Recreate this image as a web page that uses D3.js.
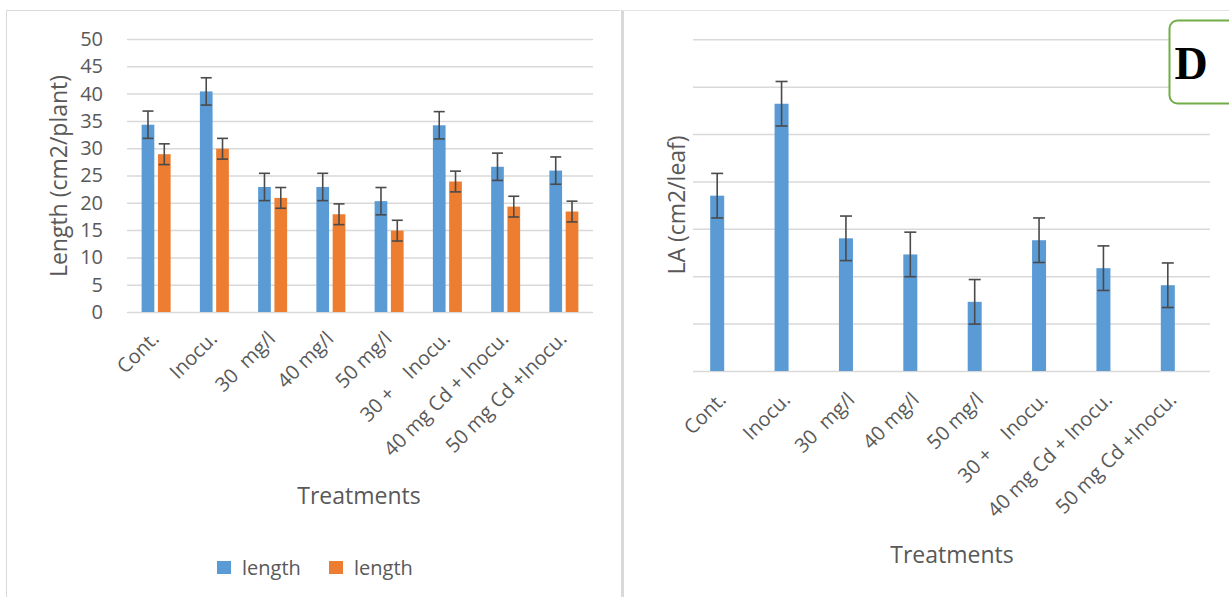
<!DOCTYPE html>
<html>
<head>
<meta charset="utf-8">
<script src="https://cdn.jsdelivr.net/npm/d3@7"></script>
<style>
  body { margin: 0; background: #fff; }
  svg text { font-family: "Open Sans", "DejaVu Sans", sans-serif; fill: #595959; white-space: pre; }
</style>
</head>
<body>
<div id="viz"></div>
<script>
'use strict';

// data
const treatments = ['Cont.', 'Inocu.', '30  mg/l', '40 mg/l', '50 mg/l', '30 +    Inocu.', '40 mg Cd + Inocu.', '50 mg Cd +Inocu.'];
const seriesNames = ['length', 'length'];
const lengthBlue = [34.3, 40.4, 22.9, 22.9, 20.3, 34.2, 26.6, 25.9];
const lengthBlueErr = [2.5, 2.5, 2.5, 2.5, 2.5, 2.5, 2.5, 2.5];
const lengthOrange = [28.9, 29.9, 20.9, 17.9, 14.9, 23.9, 19.3, 18.4];
const lengthOrangeErr = [1.9, 1.9, 1.9, 1.9, 1.9, 1.9, 1.9, 1.9];
const leftTicks = [0, 5, 10, 15, 20, 25, 30, 35, 40, 45, 50];
const laValues = [3.70, 5.64, 2.80, 2.46, 1.46, 2.76, 2.17, 1.81];
const laErr = [0.47, 0.47, 0.47, 0.47, 0.47, 0.47, 0.47, 0.47];
const rightTicks = [0, 1, 2, 3, 4, 5, 6, 7];

const colors = ['#5B9BD5', '#ED7D31'];
const W = 1229, H = 597;

const svg = d3.select('#viz').append('svg')
    .attr('width', W).attr('height', H);

// panel frames
svg.append('path').attr('d', 'M6.5,' + H + 'V10.5H620')
    .attr('fill', 'none').attr('stroke', '#d9d9d9').attr('stroke-width', 1);
svg.append('line').attr('x1', 622.5).attr('x2', 622.5).attr('y1', 10).attr('y2', H)
    .attr('stroke', '#d9d9d9').attr('stroke-width', 3);
svg.append('line').attr('x1', 622).attr('x2', W).attr('y1', 10.5).attr('y2', 10.5)
    .attr('stroke', '#e3e3e3').attr('stroke-width', 1);

function drawErrors(g, xs, ys, vals, errs, cap) {
    vals.forEach(function(v, i) {
        const x = xs[i];
        const e = g.append('g').attr('stroke', '#4a4a4a').attr('stroke-width', 1.6);
        e.append('line').attr('x1', x).attr('x2', x).attr('y1', ys(v - errs[i])).attr('y2', ys(v + errs[i]));
        e.append('line').attr('x1', x - cap / 2).attr('x2', x + cap / 2).attr('y1', ys(v + errs[i])).attr('y2', ys(v + errs[i]));
        e.append('line').attr('x1', x - cap / 2).attr('x2', x + cap / 2).attr('y1', ys(v - errs[i])).attr('y2', ys(v - errs[i]));
    });
}

function drawXLabels(g, xScale, y0, dx, dy) {
    g.selectAll('.xlab').data(treatments).enter().append('text')
        .attr('class', 'xlab')
        .attr('text-anchor', 'end')
        .style('font-size', '20px')
        .attr('transform', d => 'translate(' + (xScale(d) + xScale.bandwidth() / 2 + dx) + ',' + (y0 + dy) + ') rotate(-45)')
        .text(d => d);
}

// ---------- left chart ----------
const left = svg.append('g');
const xL = d3.scaleBand().domain(treatments).range([127, 593]);
const xSub = d3.scaleBand().domain([0, 1]).range([-14.5, 14.5]).paddingInner(0.22);
const yL = d3.scaleLinear().domain([0, 50]).range([312, 39]);

left.append('g')
    .attr('transform', 'translate(127,0)')
    .call(d3.axisLeft(yL).tickValues(leftTicks).tickSize(-466).tickPadding(24))
    .call(g => g.select('.domain').remove())
    .call(g => g.selectAll('.tick line').attr('stroke', '#d9d9d9').attr('stroke-width', 1.5))
    .call(g => g.selectAll('.tick text').style('font-size', '20px').attr('fill', '#595959'));

[lengthBlue, lengthOrange].forEach(function(vals, s) {
    left.selectAll('.bar' + s).data(vals).enter().append('rect')
        .attr('class', 'bar' + s)
        .attr('x', (d, i) => xL(treatments[i]) + xL.bandwidth() / 2 + xSub(s))
        .attr('width', xSub.bandwidth())
        .attr('y', d => yL(d))
        .attr('height', d => yL(0) - yL(d))
        .attr('fill', colors[s]);
});
drawErrors(left, lengthBlue.map((d, i) => xL(treatments[i]) + xL.bandwidth() / 2 + xSub(0) + xSub.bandwidth() / 2), yL, lengthBlue, lengthBlueErr, 11);
drawErrors(left, lengthOrange.map((d, i) => xL(treatments[i]) + xL.bandwidth() / 2 + xSub(1) + xSub.bandwidth() / 2), yL, lengthOrange, lengthOrangeErr, 11);

drawXLabels(left, xL, 312, 4, 28);

left.append('text').attr('transform', 'translate(67,176) rotate(-90)')
    .attr('text-anchor', 'middle').style('font-size', '23px').text('Length (cm2/plant)');
left.append('text').attr('x', 359).attr('y', 504)
    .attr('text-anchor', 'middle').style('font-size', '23px').text('Treatments');

// legend
const legend = left.append('g');
[0, 1].forEach(function(s) {
    const lx = [217, 329][s];
    legend.append('rect').attr('x', lx).attr('y', 561).attr('width', 14).attr('height', 13).attr('fill', colors[s]);
    legend.append('text').attr('x', lx + 25).attr('y', 575).style('font-size', '20px').text(seriesNames[s]);
});

// ---------- right chart ----------
const right = svg.append('g');
const xR = d3.scaleBand().domain(treatments).range([685, 1200]);
const yR = d3.scaleLinear().domain([0, 7]).range([371, 39.3]);

right.append('g')
    .attr('transform', 'translate(693,0)')
    .call(d3.axisLeft(yR).tickValues(rightTicks).tickSize(-517).tickFormat(''))
    .call(g => g.select('.domain').remove())
    .call(g => g.selectAll('.tick line').attr('stroke', '#d9d9d9').attr('stroke-width', 1.5));

const barW = 14;
right.selectAll('.bar').data(laValues).enter().append('rect')
    .attr('class', 'bar')
    .attr('x', (d, i) => xR(treatments[i]) + xR.bandwidth() / 2 - barW / 2)
    .attr('width', barW)
    .attr('y', d => yR(d))
    .attr('height', d => yR(0) - yR(d))
    .attr('fill', colors[0]);
drawErrors(right, laValues.map((d, i) => xR(treatments[i]) + xR.bandwidth() / 2), yR, laValues, laErr, 12);

drawXLabels(right, xR, 371, 10, 30);

right.append('text').attr('transform', 'translate(685,205) rotate(-90)')
    .attr('text-anchor', 'middle').style('font-size', '23px').text('LA (cm2/leaf)');
right.append('text').attr('x', 952).attr('y', 563)
    .attr('text-anchor', 'middle').style('font-size', '23px').text('Treatments');

// panel tag
svg.append('rect').attr('x', 1169.5).attr('y', 20.5).attr('width', 70).attr('height', 83).attr('rx', 8)
    .attr('fill', '#fff').attr('stroke', '#70AD47').attr('stroke-width', 2);
svg.append('text').attr('x', 1191).attr('y', 79).attr('text-anchor', 'middle')
    .style('font-family', '"Liberation Serif", serif').style('font-weight', 'bold')
    .style('font-size', '46px').style('fill', '#000').text('D');
</script>
</body>
</html>
